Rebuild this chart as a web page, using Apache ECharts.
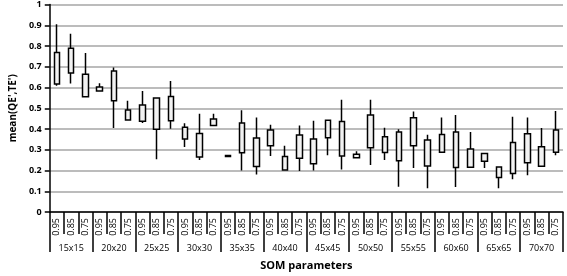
<!DOCTYPE html>
<html>
<head>
<meta charset="utf-8">
<script src="https://cdn.jsdelivr.net/npm/echarts@6/dist/echarts.min.js"></script>
<style>
  html, body { margin: 0; padding: 0; background: #fff; }
  #chart { width: 567px; height: 276px; }
</style>
</head>
<body>
<div id="chart"></div>
<script>
// SOM size groups, each with three threshold values
var groups = ['15x15', '20x20', '25x25', '30x30', '35x35', '40x40',
              '45x45', '50x50', '55x55', '60x60', '65x65', '70x70'];
var thresholds = ['0.95', '0.85', '0.75'];

// box (lower/upper edge) and whisker ends, one entry per category
var boxLow    = [0.617, 0.670, 0.555, 0.583, 0.536, 0.443, 0.437, 0.399, 0.440, 0.352, 0.265, 0.417,
                 0.268, 0.285, 0.219, 0.319, 0.203, 0.259, 0.233, 0.358, 0.270, 0.262, 0.310, 0.287,
                 0.247, 0.319, 0.222, 0.288, 0.214, 0.216, 0.245, 0.166, 0.185, 0.237, 0.220, 0.288];
var boxHigh   = [0.769, 0.789, 0.664, 0.603, 0.680, 0.492, 0.516, 0.549, 0.557, 0.409, 0.378, 0.448,
                 0.272, 0.429, 0.357, 0.395, 0.267, 0.371, 0.352, 0.442, 0.436, 0.278, 0.467, 0.363,
                 0.385, 0.454, 0.347, 0.374, 0.386, 0.304, 0.282, 0.217, 0.335, 0.377, 0.315, 0.395];
var whiskLow  = [0.608, 0.619, 0.552, 0.583, 0.405, 0.443, 0.429, 0.254, 0.401, 0.313, 0.251, 0.417,
                 0.267, 0.200, 0.181, 0.270, 0.203, 0.197, 0.200, 0.274, 0.205, 0.262, 0.227, 0.251,
                 0.122, 0.212, 0.115, 0.288, 0.120, 0.216, 0.212, 0.115, 0.158, 0.177, 0.220, 0.274];
var whiskHigh = [0.905, 0.859, 0.766, 0.620, 0.696, 0.536, 0.583, 0.550, 0.631, 0.428, 0.474, 0.474,
                 0.272, 0.490, 0.456, 0.420, 0.319, 0.417, 0.440, 0.444, 0.541, 0.293, 0.541, 0.406,
                 0.399, 0.484, 0.372, 0.456, 0.468, 0.385, 0.282, 0.217, 0.459, 0.456, 0.405, 0.487];

// category labels: 0.95 / 0.85 / 0.75 repeated for every group
var categories = [];
groups.forEach(function () {
    thresholds.forEach(function (t) { categories.push(t); });
});

// candlestick wants [open, close, lowest, highest]
var boxData = categories.map(function (c, i) {
    return [boxLow[i], boxHigh[i], whiskLow[i], whiskHigh[i]];
});

var font = '"Open Sans", "Liberation Sans", sans-serif';

var myChart = echarts.init(document.getElementById('chart'));
myChart.setOption({
    animation: false,
    grid: { left: 35, right: 4, top: 3, bottom: 58 },
    xAxis: [{
        type: 'category',
        data: categories,
        boundaryGap: true,
        axisLine: { show: true, lineStyle: { color: '#000', width: 1.5 } },
        axisTick: { show: true, interval: 0, length: 22, lineStyle: { color: '#000', width: 1.5 } },
        axisLabel: {
            interval: 0, rotate: 90, margin: 6,
            fontFamily: font, fontSize: 9, color: '#000'
        },
        splitLine: { show: false }
    }, {
        type: 'category',
        data: groups,
        position: 'bottom',
        boundaryGap: true,
        axisLine: { show: false },
        axisTick: { show: true, interval: 0, length: 40, lineStyle: { color: '#000', width: 1.5 } },
        axisLabel: {
            interval: 0, margin: 32,
            fontFamily: font, fontSize: 9, color: '#000'
        },
        name: 'SOM parameters',
        nameLocation: 'middle',
        nameGap: 48,
        nameTextStyle: { fontFamily: font, fontSize: 11, fontWeight: 'bold', color: '#000' }
    }],
    yAxis: {
        type: 'value',
        min: 0, max: 1, interval: 0.1,
        name: "mean(QE',TE')",
        nameLocation: 'middle',
        nameGap: 22,
        nameRotate: 90,
        nameTextStyle: { fontFamily: font, fontSize: 10, fontWeight: 'bold', color: '#000' },
        axisLine: { show: true, lineStyle: { color: '#000', width: 1.5 } },
        axisTick: { show: true, length: 5, lineStyle: { color: '#000', width: 1.5 } },
        axisLabel: {
            margin: 8, fontFamily: font, fontSize: 9, fontWeight: 'bold', color: '#000'
        },
        splitLine: { show: true, lineStyle: { color: '#a6a6a6', width: 1.5 } }
    },
    series: [{
        type: 'candlestick',
        xAxisIndex: 0,
        data: boxData,
        barWidth: 6,
        itemStyle: {
            color: '#f2f2f2', color0: '#f2f2f2',
            borderColor: '#000', borderColor0: '#000', borderColorDoji: '#000',
            borderWidth: 1.5
        }
    }]
});
</script>
</body>
</html>
